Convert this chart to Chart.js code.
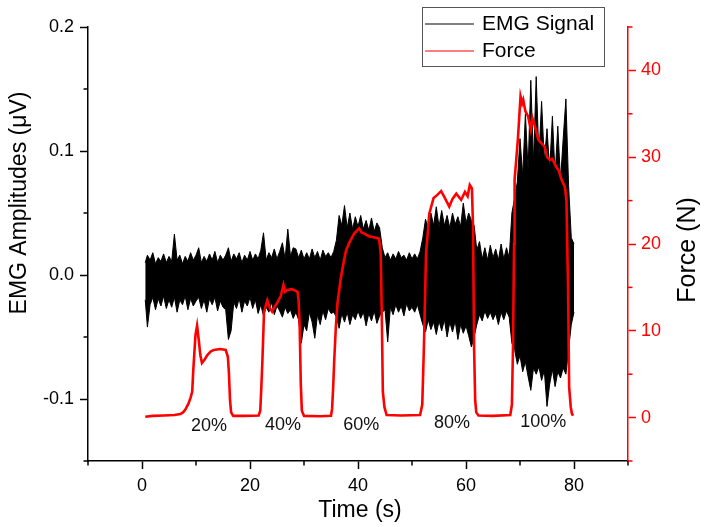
<!DOCTYPE html>
<html><head><meta charset="utf-8">
<script src="https://cdn.jsdelivr.net/npm/chart.js@4.4.1/dist/chart.umd.min.js"></script>
<style>html,body{margin:0;padding:0;background:#fff}#wrap{width:705px;height:527px}</style>
</head><body><div id="wrap"><canvas id="c" width="705" height="527"></canvas></div>
<script>
// ---- data ----
const emgTime = [
 0.6,1,1.5,2,2.5,3,3.5,4,4.5,5,
 5.5,6,6.5,7,7.5,8,8.5,9,9.5,10,
 10.5,11,11.5,12,12.5,13,13.5,14,14.5,15,
 15.5,16,16.5,17,17.5,18,18.5,19,19.5,20,
 20.5,21,21.5,22,22.5,23,23.5,24,24.5,25,
 25.5,26,26.5,27,27.5,28,28.5,29,29.5,30,
 30.5,31,31.5,32,32.5,33,33.5,34,34.5,35,
 35.5,36,36.5,37,37.5,38,38.5,39,39.5,40,
 40.5,41,41.5,42,42.5,43,43.5,44,44.5,45,
 45.5,46,46.5,47,47.5,48,48.5,49,49.5,50,
 50.5,51,51.5,52,52.5,53,53.5,54,54.5,55,
 55.5,56,56.5,57,57.5,58,58.5,59,59.5,60,
 60.5,61,61.5,62,62.5,63,63.5,64,64.5,65,
 65.5,66,66.5,67,67.5,68,68.5,69,69.5,70,
 70.5,71,71.5,72,72.5,73,73.5,74,74.5,75,
 75.5,76,76.5,77,77.5,78,78.5,79,79.5,80
];
const emgUpper = [
 0.010,0.016,0.012,0.018,0.009,0.014,0.011,0.017,0.010,0.015,
 0.011,0.033,0.012,0.016,0.009,0.015,0.011,0.018,0.012,0.016,
 0.022,0.010,0.015,0.011,0.017,0.012,0.019,0.010,0.016,0.012,
 0.016,0.022,0.011,0.017,0.013,0.018,0.010,0.016,0.012,0.019,
 0.012,0.017,0.013,0.020,0.034,0.012,0.018,0.014,0.021,0.013,
 0.019,0.026,0.013,0.037,0.015,0.022,0.021,0.014,0.020,0.013,
 0.018,0.013,0.021,0.014,0.019,0.012,0.020,0.015,0.018,0.014,
 0.019,0.028,0.048,0.040,0.056,0.038,0.050,0.037,0.047,0.039,
 0.048,0.037,0.044,0.036,0.046,0.035,0.042,0.038,0.022,0.014,
 0.018,0.012,0.017,0.013,0.019,0.014,0.016,0.012,0.018,0.013,
 0.017,0.013,0.019,0.030,0.045,0.038,0.050,0.040,0.055,0.039,
 0.052,0.040,0.048,0.038,0.050,0.041,0.047,0.039,0.058,0.042,
 0.050,0.044,0.040,0.020,0.027,0.013,0.022,0.012,0.024,0.014,
 0.021,0.012,0.025,0.013,0.022,0.014,0.050,0.062,0.075,0.110,
 0.080,0.130,0.085,0.157,0.090,0.160,0.095,0.140,0.092,0.118,
 0.085,0.128,0.080,0.120,0.076,0.110,0.142,0.072,0.030,0.025
];
const emgLower = [
 -0.020,-0.042,-0.024,-0.018,-0.028,-0.019,-0.025,-0.017,-0.027,-0.020,
 -0.026,-0.018,-0.030,-0.020,-0.024,-0.017,-0.028,-0.019,-0.025,-0.021,
 -0.018,-0.027,-0.020,-0.030,-0.019,-0.024,-0.018,-0.029,-0.021,-0.026,
 -0.028,-0.052,-0.045,-0.022,-0.027,-0.019,-0.030,-0.021,-0.025,-0.018,
 -0.027,-0.020,-0.031,-0.024,-0.033,-0.026,-0.030,-0.022,-0.032,-0.025,
 -0.029,-0.034,-0.026,-0.031,-0.028,-0.035,-0.030,-0.036,-0.055,-0.040,
 -0.045,-0.030,-0.038,-0.051,-0.032,-0.040,-0.029,-0.036,-0.027,-0.031,
 -0.030,-0.034,-0.043,-0.031,-0.038,-0.030,-0.040,-0.032,-0.036,-0.029,
 -0.035,-0.030,-0.041,-0.031,-0.037,-0.029,-0.039,-0.033,-0.030,-0.028,
 -0.054,-0.026,-0.032,-0.024,-0.030,-0.025,-0.033,-0.023,-0.029,-0.026,
 -0.030,-0.024,-0.032,-0.040,-0.046,-0.036,-0.044,-0.038,-0.048,-0.037,
 -0.045,-0.036,-0.050,-0.038,-0.046,-0.037,-0.052,-0.040,-0.047,-0.041,
 -0.049,-0.058,-0.050,-0.040,-0.032,-0.037,-0.029,-0.035,-0.030,-0.036,
 -0.031,-0.040,-0.030,-0.036,-0.029,-0.034,-0.055,-0.060,-0.072,-0.065,
 -0.078,-0.070,-0.082,-0.093,-0.075,-0.080,-0.074,-0.085,-0.077,-0.106,
 -0.088,-0.076,-0.090,-0.078,-0.083,-0.075,-0.080,-0.060,-0.040,-0.030
];
const forceTime = [
 0.6,2,4,6,7.1,7.6,8.0,8.6,9.0,9.3,9.5,9.7,9.9,10.2,10.5,10.8,11.1,11.6,12.1,12.7,13.3,14.5,15.5,15.9,16.1,16.3,16.5,16.9,19,
 21.6,21.9,22.1,22.3,22.6,23.2,23.7,24.1,24.6,25.1,25.7,26.2,26.5,26.9,27.8,28.8,29.0,29.2,29.4,29.6,30.0,33,
 35.0,35.2,35.4,35.6,35.9,36.2,36.8,37.4,37.8,38.5,39.3,40.2,40.7,41.2,42.0,42.7,43.5,43.9,44.2,44.4,44.6,44.9,45.3,48,
 51.5,51.9,52.2,52.6,53.2,54.0,54.6,55.4,56.0,56.9,57.5,58.2,59.1,59.8,60.3,60.7,61.1,61.3,61.5,61.7,61.9,62.3,65,
 68.2,68.5,68.7,68.9,69.0,69.6,70.1,70.4,70.6,71.0,71.5,72.0,72.3,72.7,73.4,74.0,74.6,75.0,75.5,76.0,76.7,77.2,77.7,78.3,78.6,78.9,79.1,79.4,79.6,79.8
];
const forceValue = [
 0.1,0.2,0.25,0.3,0.4,0.6,0.9,1.6,2.3,3.0,5.5,7.5,9.5,10.6,9.0,7.2,6.3,6.7,7.2,7.6,7.8,7.9,7.8,7.0,5.1,2.0,0.6,0.2,0.2,
 0.25,0.8,3.5,6.6,12.2,13.5,12.6,12.2,12.8,13.3,14.0,15.3,14.5,14.7,14.8,14.5,13.5,10.5,4.0,0.8,0.2,0.15,
 0.2,1.0,3.5,6.6,10.5,13.2,16.0,18.1,19.3,20.3,21.2,21.8,21.3,21.2,20.9,20.8,20.7,20.6,19.0,12.0,3.0,1.2,0.3,0.25,
 0.3,1.5,8.0,18.9,23.5,25.3,25.6,26.1,25.4,24.3,25.2,25.8,25.1,26.0,25.5,26.8,26.4,22.0,8.0,2.0,0.6,0.25,0.2,
 0.3,1.5,8.0,20.0,27.4,32.0,37.0,36.2,36.6,35.3,34.7,33.2,34.5,33.7,32.0,31.6,31.2,30.0,29.7,29.8,28.9,28.4,27.4,26.6,25.1,15.0,3.5,1.2,0.5,0.2
];
const xTicks = [0, 20, 40, 60, 80];
const xMinorTicks = [-10, 10, 30, 50, 70, 90];
const emgTicks = [-0.1, 0, 0.1, 0.2];
const emgMinorTicks = [-0.15, -0.05, 0.05, 0.15];
const forceTicks = [0, 10, 20, 30, 40];
const forceMinorTicks = [-5, 5, 15, 25, 35, 45];
const levelLabels = ['20%', '40%', '60%', '80%', '100%'];
const levelTime = [12.4, 26.1, 40.6, 57.4, 74.3];
const levelForce = [-0.95, -0.9, -0.85, -0.65, -0.55];
const seriesNames = ['EMG Signal', 'Force'];
const xTitle = 'Time (s)';
const emgTitle = 'EMG Amplitudes (μV)';
const forceTitle = 'Force (N)';

// ---- chart ----
const FONT = 'Arial, "Liberation Sans", Helvetica, sans-serif';
const RED = '#ff0000';
const forcePts = forceTime.map((t, i) => ({x: t, y: forceValue[i]}));
const upperPts = emgTime.map((t, i) => ({x: t, y: emgUpper[i]}));
const lowerPts = emgTime.map((t, i) => ({x: t, y: emgLower[i]}));

const deco = {
  id: 'deco',
  afterDraw(chart) {
    const ctx = chart.ctx, ca = chart.chartArea;
    const sx = chart.scales.x, sy = chart.scales.y, sf = chart.scales.yF;
    ctx.save();
    ctx.lineWidth = 1.5;
    ctx.strokeStyle = '#000';
    xMinorTicks.forEach(v => { const p = sx.getPixelForValue(v); ctx.beginPath(); ctx.moveTo(p, ca.bottom); ctx.lineTo(p, ca.bottom + 4.5); ctx.stroke(); });
    emgMinorTicks.forEach(v => { const p = sy.getPixelForValue(v); ctx.beginPath(); ctx.moveTo(ca.left, p); ctx.lineTo(ca.left - 4.5, p); ctx.stroke(); });
    ctx.strokeStyle = RED;
    forceMinorTicks.forEach(v => { const p = sf.getPixelForValue(v); ctx.beginPath(); ctx.moveTo(ca.right, p); ctx.lineTo(ca.right + 4.5, p); ctx.stroke(); });

    // level labels
    ctx.fillStyle = '#111';
    ctx.font = '18px ' + FONT;
    ctx.textAlign = 'center';
    ctx.textBaseline = 'middle';
    levelLabels.forEach((t, i) => ctx.fillText(t, sx.getPixelForValue(levelTime[i]), sf.getPixelForValue(levelForce[i])));

    // axis titles
    ctx.fillStyle = '#000';
    ctx.font = '23px ' + FONT;
    ctx.fillText(xTitle, (ca.left + ca.right) / 2 + 2, 511);
    ctx.save(); ctx.translate(20, 203); ctx.rotate(-Math.PI / 2); ctx.fillText(emgTitle, 0, 0); ctx.restore();
    ctx.font = '25px ' + FONT;
    ctx.save(); ctx.translate(688, 250); ctx.rotate(-Math.PI / 2); ctx.fillText(forceTitle, 0, 0); ctx.restore();

    // legend
    ctx.fillStyle = '#fff';
    ctx.fillRect(422, 7, 183, 60);
    ctx.strokeStyle = '#555';
    ctx.lineWidth = 1;
    ctx.strokeRect(422.5, 7.5, 182, 59);
    ctx.lineWidth = 1.2;
    ctx.strokeStyle = '#000';
    ctx.beginPath(); ctx.moveTo(425, 24); ctx.lineTo(474, 24); ctx.stroke();
    ctx.strokeStyle = RED;
    ctx.beginPath(); ctx.moveTo(425, 51); ctx.lineTo(474, 51); ctx.stroke();
    ctx.fillStyle = '#000';
    ctx.font = '21px ' + FONT;
    ctx.textAlign = 'left';
    ctx.fillText(seriesNames[0], 482, 24);
    ctx.fillText(seriesNames[1], 482, 51);
    ctx.restore();
  }
};

new Chart(document.getElementById('c'), {
  type: 'line',
  data: {
    datasets: [
      {label: seriesNames[1], data: forcePts, yAxisID: 'yF', borderColor: RED, borderWidth: 2.6, pointRadius: 0, fill: false, order: 0, tension: 0},
      {label: seriesNames[0] + ' lower', data: lowerPts, yAxisID: 'y', borderColor: '#000', borderWidth: 1, pointRadius: 0, fill: false, order: 1, tension: 0},
      {label: seriesNames[0], data: upperPts, yAxisID: 'y', borderColor: '#000', backgroundColor: '#000', borderWidth: 1, pointRadius: 0, fill: '-1', order: 2, tension: 0}
    ]
  },
  options: {
    responsive: false,
    animation: false,
    devicePixelRatio: 1,
    layout: {padding: {top: 27, left: 0, right: 0, bottom: 0}},
    plugins: {legend: {display: false}, tooltip: {enabled: false}, filler: {propagate: false}},
    scales: {
      x: {
        type: 'linear', position: 'bottom', min: -10, max: 90,
        afterBuildTicks: s => { s.ticks = xTicks.map(v => ({value: v})); },
        afterFit: s => { s.height = 66; },
        grid: {drawOnChartArea: false, drawTicks: true, tickLength: 8, tickWidth: 1.5, tickColor: '#000'},
        border: {display: true, color: '#000', width: 1.5},
        ticks: {font: {size: 18, family: FONT}, color: '#000', padding: 6, maxRotation: 0, autoSkip: false, callback: v => String(v)}
      },
      y: {
        type: 'linear', position: 'left', min: -0.15, max: 0.2,
        afterBuildTicks: s => { s.ticks = emgTicks.map(v => ({value: v})); },
        afterFit: s => { s.width = 88; },
        grid: {drawOnChartArea: false, drawTicks: true, tickLength: 8, tickWidth: 1.5, tickColor: '#000'},
        border: {display: true, color: '#000', width: 1.5},
        ticks: {font: {size: 18, family: FONT}, color: '#000', padding: 6, autoSkip: false, callback: v => Number(v).toFixed(1)}
      },
      yF: {
        type: 'linear', position: 'right', min: -5, max: 45,
        afterBuildTicks: s => { s.ticks = forceTicks.map(v => ({value: v})); },
        afterFit: s => { s.width = 77; },
        grid: {drawOnChartArea: false, drawTicks: true, tickLength: 8, tickWidth: 1.5, tickColor: RED},
        border: {display: true, color: RED, width: 1.5},
        ticks: {font: {size: 18, family: FONT}, color: RED, padding: 5, autoSkip: false, callback: v => String(v)}
      }
    }
  },
  plugins: [deco]
});
</script>
</body></html>
